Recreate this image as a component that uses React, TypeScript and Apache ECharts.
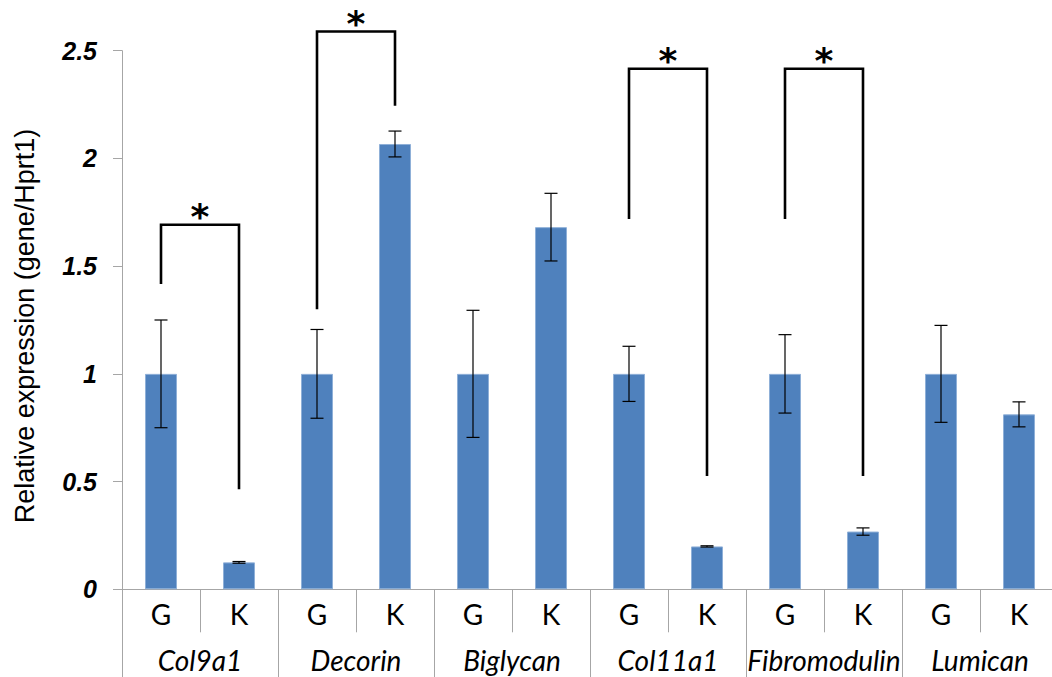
import React, { useEffect, useRef } from "react";
import * as echarts from "echarts";

const groups = ["Col9a1", "Decorin", "Biglycan", "Col11a1", "Fibromodulin", "Lumican"];
const subLabels = ["G", "K", "G", "K", "G", "K", "G", "K", "G", "K", "G", "K"];
const values = [1.0, 0.125, 1.0, 2.067, 1.0, 1.681, 1.0, 0.199, 1.0, 0.268, 1.0, 0.812];
const errors = [0.25, 0.004, 0.206, 0.06, 0.295, 0.157, 0.128, 0.003, 0.182, 0.017, 0.225, 0.058];
// [leftIndex, rightIndex, top, leftBottom, rightBottom]
const brackets = [
  [0, 1, 1.692, 1.417, 0.464],
  [2, 3, 2.589, 1.3, 2.245],
  [6, 7, 2.416, 1.719, 0.526],
  [8, 9, 2.416, 1.719, 0.526],
];
const yTicks = { min: 0, max: 2.5, interval: 0.5 };
const yTitle = "Relative expression (gene/Hprt1)";

const AXIS_GRAY = "#A6A6A6";

export default function App() {
  const ref = useRef<HTMLDivElement>(null);
  useEffect(() => {
    document.documentElement.style.overflow = "hidden";
    document.body.style.overflow = "hidden";
    const chart = echarts.init(ref.current!, null, { renderer: "svg" });
    const option: any = {
      animation: false,
      grid: { left: 122, top: 50.7, width: 936, height: 538.6, containLabel: false },
      xAxis: [
        {
          type: "category",
          data: subLabels,
          position: "bottom",
          axisLine: { show: true, lineStyle: { color: AXIS_GRAY, width: 1 } },
          axisTick: { show: true, interval: 0, length: 43, lineStyle: { color: AXIS_GRAY } },
          axisLabel: {
            interval: 0,
            margin: 10,
            color: "#000",
            fontFamily: "Lato",
            fontSize: 28,
            lineHeight: 30,
          },
          splitLine: { show: false },
        },
        {
          type: "category",
          data: groups,
          position: "bottom",
          gridIndex: 0,
          axisLine: { show: false },
          axisTick: { show: true, interval: 0, length: 95, lineStyle: { color: AXIS_GRAY } },
          axisLabel: {
            interval: 0,
            margin: 56,
            color: "#000",
            fontFamily: "Lato",
            fontStyle: "italic",
            fontSize: 28,
            lineHeight: 30,
          },
          splitLine: { show: false },
        },
      ],
      yAxis: {
        type: "value",
        min: yTicks.min,
        max: yTicks.max,
        interval: yTicks.interval,
        axisLine: { show: true, lineStyle: { color: AXIS_GRAY, width: 1 } },
        axisTick: { show: true, inside: false, length: 9, lineStyle: { color: AXIS_GRAY } },
        axisLabel: {
          margin: 25,
          color: "#000",
          fontFamily: "Liberation Sans",
          fontWeight: "bold",
          fontStyle: "italic",
          fontSize: 25,
        },
        splitLine: { show: false },
      },
      graphic: [
        {
          type: "text",
          x: 25,
          y: 326,
          rotation: Math.PI / 2,
          style: {
            text: yTitle,
            fontFamily: "Liberation Sans",
            fontSize: 27,
            fill: "#000",
            textAlign: "center",
            textVerticalAlign: "middle",
          },
        },
      ],
      series: [
        {
          type: "bar",
          xAxisIndex: 0,
          data: values,
          barWidth: 32,
          itemStyle: { color: "#4F81BD", borderColor: "#8FB0D8", borderWidth: 1 },
          z: 2,
        },
        {
          type: "custom",
          xAxisIndex: 0,
          z: 3,
          data: values.map((v, i) => [i, v - errors[i], v + errors[i]]),
          encode: { x: 0, y: [1, 2] },
          renderItem: (params: any, api: any) => {
            const i = api.value(0);
            const lo = api.coord([i, api.value(1)]);
            const hi = api.coord([i, api.value(2)]);
            const hw = 6.5;
            const st = { stroke: "#000", lineWidth: 1.2 };
            return {
              type: "group",
              children: [
                { type: "line", shape: { x1: lo[0], y1: lo[1], x2: hi[0], y2: hi[1] }, style: st },
                { type: "line", shape: { x1: lo[0] - hw, y1: lo[1], x2: lo[0] + hw, y2: lo[1] }, style: st },
                { type: "line", shape: { x1: hi[0] - hw, y1: hi[1], x2: hi[0] + hw, y2: hi[1] }, style: st },
              ],
            };
          },
        },
        {
          type: "custom",
          xAxisIndex: 0,
          z: 4,
          clip: false,
          data: brackets,
          encode: { x: [0, 1], y: [2, 3, 4] },
          renderItem: (params: any, api: any) => {
            const l = api.value(0);
            const r = api.value(1);
            const top = api.value(2);
            const pTopL = api.coord([l, top]);
            const pTopR = api.coord([r, top]);
            const pLB = api.coord([l, api.value(3)]);
            const pRB = api.coord([r, api.value(4)]);
            return {
              type: "group",
              children: [
                {
                  type: "polyline",
                  shape: { points: [pLB, pTopL, pTopR, pRB] },
                  style: { stroke: "#000", lineWidth: 2.6, fill: "none", lineJoin: "miter" },
                },
                {
                  type: "text",
                  x: (pTopL[0] + pTopR[0]) / 2,
                  y: pTopL[1] - 8,
                  style: {
                    text: "*",
                    fontFamily: "DejaVu Sans",
                    fontWeight: "bold",
                    fontSize: 36,
                    fill: "#000",
                    textAlign: "center",
                    textVerticalAlign: "middle",
                  },
                },
              ],
            };
          },
        },
      ],
    };
    chart.setOption(option);
    return () => chart.dispose();
  }, []);
  return (
    <div
      ref={ref}
      style={{ position: "fixed", left: 0, top: 0, width: 1060, height: 677, background: "#fff" }}
    />
  );
}
